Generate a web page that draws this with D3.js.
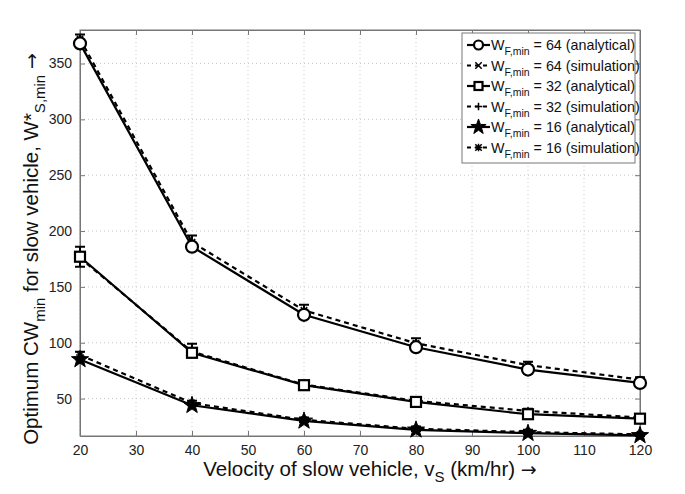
<!DOCTYPE html>
<html><head><meta charset="utf-8">
<script src="https://cdn.jsdelivr.net/npm/d3@7"></script>
<style>body{margin:0;background:#fff}svg{display:block}text{font-family:"Liberation Sans",Arial,sans-serif}</style>
</head><body><svg id="c" width="685" height="494"></svg>
<script>
const velocity = [20, 40, 60, 80, 100, 120];
const xTicks = [20, 30, 40, 50, 60, 70, 80, 90, 100, 110, 120];
const yTicks = [50, 100, 150, 200, 250, 300, 350];
const w64Analytical = [368, 186, 125, 96, 76, 64];
const w64Simulation = [372, 190, 129, 99.5, 80, 67];
const w64Low = [368, 185, 123, 95, 76, 64];
const w64High = [376, 196, 134, 104, 83, 69];
const w32Analytical = [177, 91, 62, 47, 36, 32];
const w32Simulation = [176, 92, 62.5, 48, 39, 33];
const w32Low = [168, 87, 60, 46, 36, 31];
const w32High = [186, 99, 65, 50, 41, 35];
const w16Analytical = [85, 44, 30, 22, 19, 17];
const w16Simulation = [89, 46, 31, 23, 20, 18];
const w16Low = [85, 44, 29, 21, 18, 16.5];
const w16High = [92, 48, 33, 25, 22, 19];
const legendLabels = ["64 (analytical)", "64 (simulation)", "32 (analytical)", "32 (simulation)", "16 (analytical)", "16 (simulation)"];

const svg = d3.select("#c");
const L = 80, R = 640, T = 30, B = 436;
const x = d3.scaleLinear().domain([20, 120]).range([L, R]);
const y = d3.scaleLinear().domain([16.5, 380]).range([B, T]);

// grid
const g = svg.append("g");
g.selectAll(".gx").data(xTicks).enter().append("line")
  .attr("x1", d => x(d)).attr("x2", d => x(d)).attr("y1", T).attr("y2", B)
  .attr("stroke", "#bbb").attr("stroke-width", 0.8).attr("stroke-dasharray", "1,3");
g.selectAll(".gy").data(yTicks).enter().append("line")
  .attr("y1", d => y(d)).attr("y2", d => y(d)).attr("x1", L).attr("x2", R)
  .attr("stroke", "#bbb").attr("stroke-width", 0.8).attr("stroke-dasharray", "1,3");

// axes
const axB = svg.append("g").attr("transform", `translate(0,${B})`)
  .call(d3.axisBottom(x).tickValues(xTicks).tickSizeInner(-5).tickSizeOuter(0).tickPadding(9));
const axT = svg.append("g").attr("transform", `translate(0,${T})`)
  .call(d3.axisTop(x).tickValues(xTicks).tickSizeInner(-5).tickSizeOuter(0).tickFormat(""));
const axL = svg.append("g").attr("transform", `translate(${L},0)`)
  .call(d3.axisLeft(y).tickValues(yTicks).tickSizeInner(-5).tickSizeOuter(0).tickPadding(8));
const axR = svg.append("g").attr("transform", `translate(${R},0)`)
  .call(d3.axisRight(y).tickValues(yTicks).tickSizeInner(-5).tickSizeOuter(0).tickFormat(""));
[axB, axT, axL, axR].forEach(a => {
  a.select(".domain").attr("stroke", "#777").attr("stroke-width", 1);
  a.selectAll(".tick line").attr("stroke", "#777");
  a.selectAll("text").attr("font-size", 14).attr("fill", "#222").attr("font-family", '"Liberation Sans",Arial,sans-serif');
});
svg.append("rect").attr("x", L).attr("y", T).attr("width", R - L).attr("height", B - T)
  .attr("fill", "none").attr("stroke", "#777").attr("stroke-width", 1);

const plot = svg.append("g");
const line = d3.line().x((d, i) => x(velocity[i])).y(d => y(d));

function starPath(cx, cy, ro, ri) {
  let p = "";
  for (let k = 0; k < 10; k++) {
    const r = k % 2 ? ri : ro;
    const a = -Math.PI / 2 + k * Math.PI / 5;
    p += (k ? "L" : "M") + (cx + r * Math.cos(a)).toFixed(2) + "," + (cy + r * Math.sin(a)).toFixed(2);
  }
  return p + "Z";
}
function drawMarker(sel, type, cx, cy, small) {
  if (type === "circle") {
    sel.append("circle").attr("cx", cx).attr("cy", cy).attr("r", small ? 4.5 : 6)
      .attr("fill", "#fff").attr("stroke", "#000").attr("stroke-width", 2.2);
  } else if (type === "square") {
    const s = small ? 8 : 10;
    sel.append("rect").attr("x", cx - s / 2).attr("y", cy - s / 2).attr("width", s).attr("height", s)
      .attr("fill", "#fff").attr("stroke", "#000").attr("stroke-width", 2.2);
  } else if (type === "star") {
    sel.append("path").attr("d", starPath(cx, cy, small ? 8 : 9, small ? 3.2 : 3.6))
      .attr("fill", "#000").attr("stroke", "#000").attr("stroke-width", 1);
  } else {
    const a = 3.2;
    let d = "";
    if (type === "x" || type === "*") d += `M${cx - a},${cy - a}L${cx + a},${cy + a}M${cx - a},${cy + a}L${cx + a},${cy - a}`;
    if (type === "+" || type === "*") d += `M${cx - a * 1.2},${cy}L${cx + a * 1.2},${cy}M${cx},${cy - a * 1.2}L${cx},${cy + a * 1.2}`;
    sel.append("path").attr("d", d).attr("stroke", "#000").attr("stroke-width", 1.5).attr("fill", "none");
  }
}

const series = [
  { an: w64Analytical, sim: w64Simulation, lo: w64Low, hi: w64High, m: "circle", sm: "x" },
  { an: w32Analytical, sim: w32Simulation, lo: w32Low, hi: w32High, m: "square", sm: "+" },
  { an: w16Analytical, sim: w16Simulation, lo: w16Low, hi: w16High, m: "star", sm: "*" }
];

series.forEach(s => {
  plot.append("path").attr("d", line(s.sim)).attr("fill", "none").attr("stroke", "#000")
    .attr("stroke-width", 2.2).attr("stroke-dasharray", "5,4");
  velocity.forEach((v, i) => {
    const cx = x(v), cw = 5;
    const p = `M${cx},${y(s.lo[i])}L${cx},${y(s.hi[i])}M${cx - cw},${y(s.lo[i])}L${cx + cw},${y(s.lo[i])}M${cx - cw},${y(s.hi[i])}L${cx + cw},${y(s.hi[i])}`;
    plot.append("path").attr("d", p).attr("stroke", "#000").attr("stroke-width", 2).attr("fill", "none");
    drawMarker(plot, s.sm, cx, y(s.sim[i]), true);
  });
  plot.append("path").attr("d", line(s.an)).attr("fill", "none").attr("stroke", "#000").attr("stroke-width", 2.2);
  velocity.forEach((v, i) => drawMarker(plot, s.m, x(v), y(s.an[i]), false));
});

// legend
const lg = svg.append("g");
const lgX = 462, lgY = 33, lgW = 173, lgH = 130;
lg.append("rect").attr("x", lgX).attr("y", lgY).attr("width", lgW).attr("height", lgH)
  .attr("fill", "#fff").attr("stroke", "#777").attr("stroke-width", 1);
const lgTypes = [["circle", false], ["x", true], ["square", false], ["+", true], ["star", false], ["*", true]];
legendLabels.forEach((lab, i) => {
  const cy = lgY + 12 + i * 20.5;
  const x1 = lgX + 5, x2 = lgX + 28, mx = (x1 + x2) / 2;
  lg.append("line").attr("x1", x1).attr("x2", x2).attr("y1", cy).attr("y2", cy)
    .attr("stroke", "#000").attr("stroke-width", 2.2).attr("stroke-dasharray", lgTypes[i][1] ? "4,4" : null);
  drawMarker(lg, lgTypes[i][0], mx, cy, true);
  const t = lg.append("text").attr("x", x2 + 1).attr("y", cy + 5).attr("font-size", 14.3).attr("fill", "#111");
  t.append("tspan").text("W");
  t.append("tspan").attr("font-size", 10.5).attr("dy", 5).text("F,min");
  t.append("tspan").attr("dy", -5).text(" = " + lab);
});

// x label
const xl = svg.append("text").attr("x", 370).attr("y", 476).attr("text-anchor", "middle")
  .attr("font-size", 20.5).attr("fill", "#111");
xl.append("tspan").text("Velocity of slow vehicle, v");
xl.append("tspan").attr("font-size", 15).attr("dy", 6).text("S");
xl.append("tspan").attr("dy", -6).text(" (km/hr) ");
xl.append("tspan").attr("font-family", '"DejaVu Sans"').attr("font-size", 19).text("\u2192");

// y label
const yl = svg.append("text").attr("transform", "translate(38,249) rotate(-90)").attr("text-anchor", "middle")
  .attr("font-size", 20.5).attr("fill", "#111");
yl.append("tspan").text("Optimum CW");
yl.append("tspan").attr("font-size", 15).attr("dy", 7).text("min");
yl.append("tspan").attr("dy", -7).text(" for slow vehicle, W*");
yl.append("tspan").attr("font-size", 15).attr("dy", 7).text("S,min");
yl.append("tspan").attr("dy", -7).text(" ");
yl.append("tspan").attr("font-family", '"DejaVu Sans"').attr("font-size", 19).text("\u2192");
</script></body></html>
